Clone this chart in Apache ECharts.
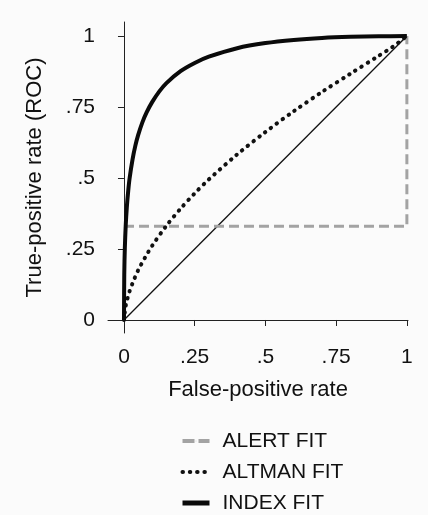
<!DOCTYPE html>
<html>
<head>
<meta charset="utf-8" />
<title>ROC</title>
<script src="https://cdn.jsdelivr.net/npm/echarts@6/dist/echarts.min.js"></script>
<style>
  html, body { margin: 0; padding: 0; background: #fbfbfb; }
  #chart { width: 428px; height: 515px; }
</style>
</head>
<body>
<div id="chart"></div>
<script>
// values
var tickValues = [0, 0.25, 0.5, 0.75, 1];
var tickLabels = ['0', '.25', '.5', '.75', '1'];

var alertX = [0, 1, 1];
var alertY = [0.33, 0.33, 1];

var altmanX = [0, 0.005, 0.01, 0.02, 0.035, 0.05, 0.075, 0.1, 0.15, 0.2, 0.25, 0.3, 0.4, 0.5, 0.6, 0.7, 0.8, 0.9, 0.95, 1];
var altmanY = [0, 0.044, 0.067, 0.102, 0.141, 0.175, 0.221, 0.262, 0.332, 0.392, 0.446, 0.495, 0.583, 0.662, 0.735, 0.803, 0.867, 0.93, 0.962, 1];

var indexX = [0, 0.001, 0.003, 0.006, 0.01, 0.015, 0.02, 0.03, 0.04, 0.05, 0.065, 0.08, 0.1, 0.125, 0.15, 0.2, 0.25, 0.3, 0.4, 0.5, 0.6, 0.7, 0.8, 0.9, 1];
var indexY = [0, 0.161, 0.253, 0.33, 0.397, 0.455, 0.5, 0.564, 0.613, 0.651, 0.696, 0.731, 0.768, 0.805, 0.834, 0.876, 0.905, 0.927, 0.957, 0.975, 0.986, 0.993, 0.997, 0.999, 1];

var refX = [0, 1];
var refY = [0, 1];

function pairs(xs, ys) {
  var out = [];
  for (var i = 0; i < xs.length; i++) out.push([xs[i], ys[i]]);
  return out;
}
function tickLabel(v) {
  var i = tickValues.indexOf(v);
  return i >= 0 ? tickLabels[i] : '';
}

var font = '"Liberation Sans", Arial, sans-serif';
var chart = echarts.init(document.getElementById('chart'));

var option = {
  backgroundColor: '#fbfbfb',
  animation: false,
  textStyle: { fontFamily: font },
  grid: { left: 108, right: 20, top: 22, bottom: 182 },
  xAxis: {
    type: 'value',
    min: -0.0565,
    max: 1.004,
    name: 'False-positive rate',
    nameLocation: 'middle',
    nameGap: 46,
    nameTextStyle: { fontSize: 22, color: '#111', fontFamily: font },
    axisLine: { show: true, lineStyle: { color: '#222', width: 1 } },
    axisTick: { show: true, length: 6, customValues: tickValues, lineStyle: { color: '#222' } },
    axisLabel: { customValues: tickValues, formatter: tickLabel, fontSize: 21, color: '#111', margin: 14, fontFamily: font },
    splitLine: { show: false }
  },
  yAxis: {
    type: 'value',
    min: -0.0458,
    max: 1.0493,
    name: 'True-positive rate (ROC)',
    nameLocation: 'middle',
    nameGap: 62,
    nameTextStyle: { fontSize: 22, color: '#111', fontFamily: font },
    axisLine: { show: true, lineStyle: { color: '#222', width: 1 } },
    axisTick: { show: true, length: 6, customValues: tickValues, lineStyle: { color: '#222' } },
    axisLabel: { customValues: tickValues, formatter: tickLabel, fontSize: 21, color: '#111', margin: 13, fontFamily: font },
    splitLine: { show: false }
  },
  legend: {
    orient: 'vertical',
    left: 180,
    top: 430,
    padding: 0,
    itemWidth: 27,
    itemHeight: 1,
    itemGap: 9,
    data: [
      { name: 'ALERT FIT', lineStyle: { width: 4, type: [12, 4] } },
      { name: 'ALTMAN FIT', lineStyle: { width: 4, type: [0.5, 6.8], cap: 'round' } },
      { name: 'INDEX FIT', lineStyle: { width: 5 } }
    ],
    itemStyle: { borderWidth: 0 },
    textStyle: { fontSize: 21, lineHeight: 22, color: '#111', fontFamily: font, padding: [0, 0, 0, 8] }
  },
  series: [
    {
      name: 'reference',
      type: 'line',
      symbol: 'none',
      data: pairs(refX, refY),
      lineStyle: { color: '#111', width: 1.3 },
      z: 1
    },
    {
      name: 'ALERT FIT',
      type: 'line',
      symbol: 'none',
      data: pairs(alertX, alertY),
      color: '#a3a3a3',
      lineStyle: { color: '#a3a3a3', width: 3, type: [10, 5] },
      z: 2
    },
    {
      name: 'ALTMAN FIT',
      type: 'line',
      symbol: 'none',
      smooth: 0.3,
      data: pairs(altmanX, altmanY),
      color: '#111',
      lineStyle: { color: '#111', width: 4, type: [0.5, 6.8], cap: 'round' },
      z: 3
    },
    {
      name: 'INDEX FIT',
      type: 'line',
      symbol: 'none',
      smooth: 0.3,
      data: pairs(indexX, indexY),
      color: '#0a0a0a',
      lineStyle: { color: '#0a0a0a', width: 4 },
      z: 4
    }
  ]
};
chart.setOption(option);
</script>
</body>
</html>
